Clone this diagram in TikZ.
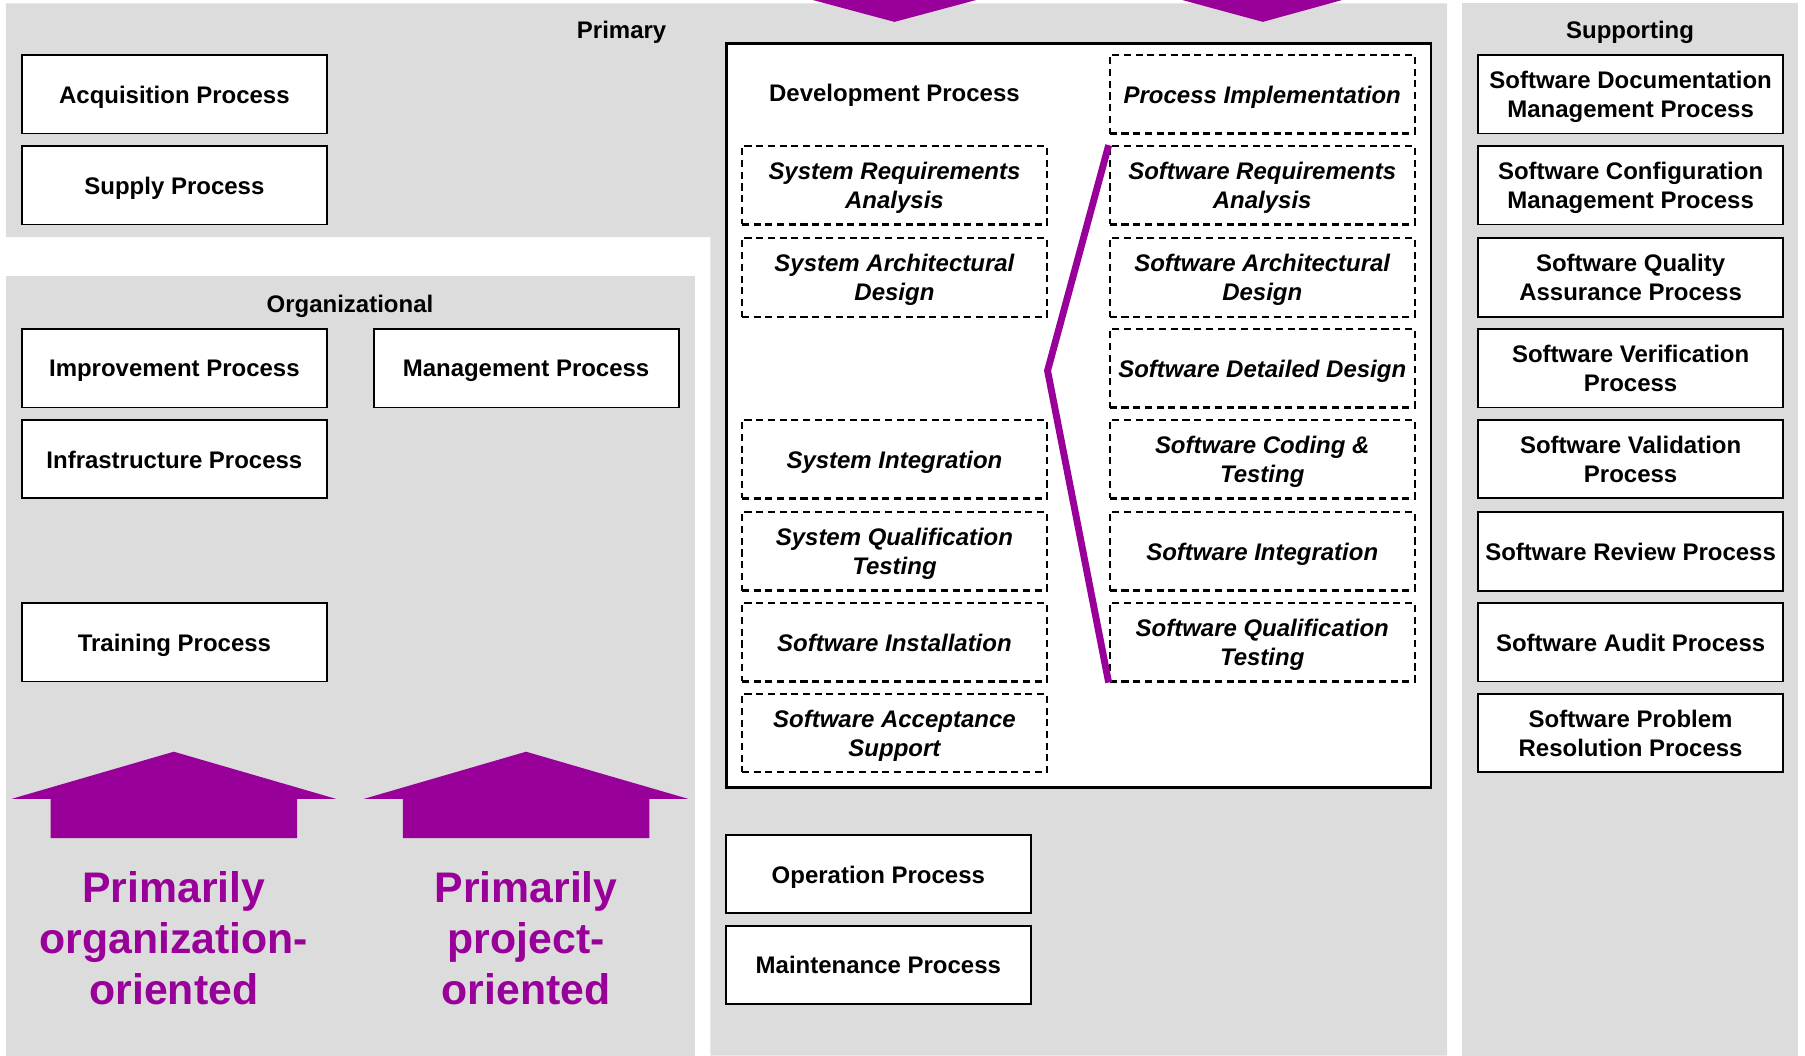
\documentclass[tikz,border=0pt]{standalone}
\usepackage{fontspec}
\setmainfont{Liberation Sans}
\definecolor{panel}{RGB}{220,220,220}
\definecolor{plum}{RGB}{153,0,153}
\tikzset{
  proc/.style={draw, line width=1pt, fill=white, minimum width=159pt, minimum height=40.8pt,
    inner sep=1pt, text depth=0pt, align=center, font=\fontsize{12.5}{15}\selectfont\bfseries},
  activity/.style={proc, line width=1.1pt, dash pattern=on 3.7pt off 2.4pt,
    font=\fontsize{12.5}{15}\selectfont\bfseries\itshape},
  title/.style={text depth=0pt, font=\fontsize{12.5}{15}\selectfont\bfseries},
  slogan/.style={text=plum, align=center, font=\fontsize{22.3}{26.4}\selectfont\bfseries},
}

\begin{document}
\begin{tikzpicture}[x=0.6pt,y=-0.6pt]
  \useasboundingbox (0,0) rectangle (1568,917);

  % grey panels
  \fill[panel] (5,3) -- (1257,3) -- (1257,917) -- (617,917) -- (617,206) -- (5,206) -- cycle;
  \fill[panel] (5,240) rectangle (604,917);
  \fill[panel] (1270,3) rectangle (1562,917);

  \fill[plum] (706,0) -- (848,0) -- (777,19) -- cycle;
  \fill[plum] (1027,0) -- (1166,0) -- (1097,19) -- cycle;

  \node[title] (primary) at (540,26) {Primary};
  \node[title] (organizational) at (304,264) {Organizational};
  \node[title] (supporting) at (1416,26) {Supporting};

  % primary
  \node[proc] (acquisition) at (151.5,82) {Acquisition Process};
  \node[proc] (supply) at (151.5,161) {Supply Process};
  \node[proc] (operation) at (763,759.5) {Operation Process};
  \node[proc] (maintenance) at (763,838.5) {Maintenance Process};

  % development
  \draw[line width=1.3pt, fill=white] (631,38) rectangle (1243,684);
  \node[title] (development) at (777,81) {Development Process};
  \node[activity] (sysreq) at (777,161) {System Requirements\\Analysis};
  \node[activity] (sysarch) at (777,241) {System Architectural\\Design};
  \node[activity] (sysint) at (777,399) {System Integration};
  \node[activity] (sysqual) at (777,479) {System Qualification\\Testing};
  \node[activity] (swinst) at (777,558) {Software Installation};
  \node[activity] (swaccept) at (777,637) {Software Acceptance\\Support};
  \node[activity] (procimpl) at (1096.5,82) {Process Implementation};
  \node[activity] (swreq) at (1096.5,161) {Software Requirements\\Analysis};
  \node[activity] (swarch) at (1096.5,241) {Software Architectural\\Design};
  \node[activity] (swdetail) at (1096.5,320) {Software Detailed Design};
  \node[activity] (swcode) at (1096.5,399) {Software Coding \&\\Testing};
  \node[activity] (swint) at (1096.5,479) {Software Integration};
  \node[activity] (swqual) at (1096.5,558) {Software Qualification\\Testing};
  \coordinate (bend) at (910,322);
  \draw[plum, line width=3.6pt] (swreq.north west) -- (bend) -- (swqual.south west);

  % organizational
  \node[proc] (improvement) at (151.5,320) {Improvement Process};
  \node[proc] (management) at (457,320) {Management Process};
  \node[proc] (infrastructure) at (151.5,399) {Infrastructure Process};
  \node[proc] (training) at (151.5,558) {Training Process};

  \foreach \cx in {151,457}
    \fill[plum] (\cx-107,728) -- (\cx-107,694) -- (\cx-141,694) -- (\cx,653)
      -- (\cx+141,694) -- (\cx+107,694) -- (\cx+107,728) -- cycle;
  \node[slogan] (orgoriented) at (151,815) {Primarily\\organization-\\oriented};
  \node[slogan] (projoriented) at (457,815) {Primarily\\project-\\oriented};

  % supporting
  \node[proc] (documentation) at (1416.5,82) {Software Documentation\\Management Process};
  \node[proc] (configuration) at (1416.5,161) {Software Configuration\\Management Process};
  \node[proc] (quality) at (1416.5,241) {Software Quality\\Assurance Process};
  \node[proc] (verification) at (1416.5,320) {Software Verification\\Process};
  \node[proc] (validation) at (1416.5,399) {Software Validation\\Process};
  \node[proc] (review) at (1416.5,479) {Software Review Process};
  \node[proc] (audit) at (1416.5,558) {Software Audit Process};
  \node[proc] (problem) at (1416.5,637) {Software Problem\\Resolution Process};
\end{tikzpicture}
\end{document}
